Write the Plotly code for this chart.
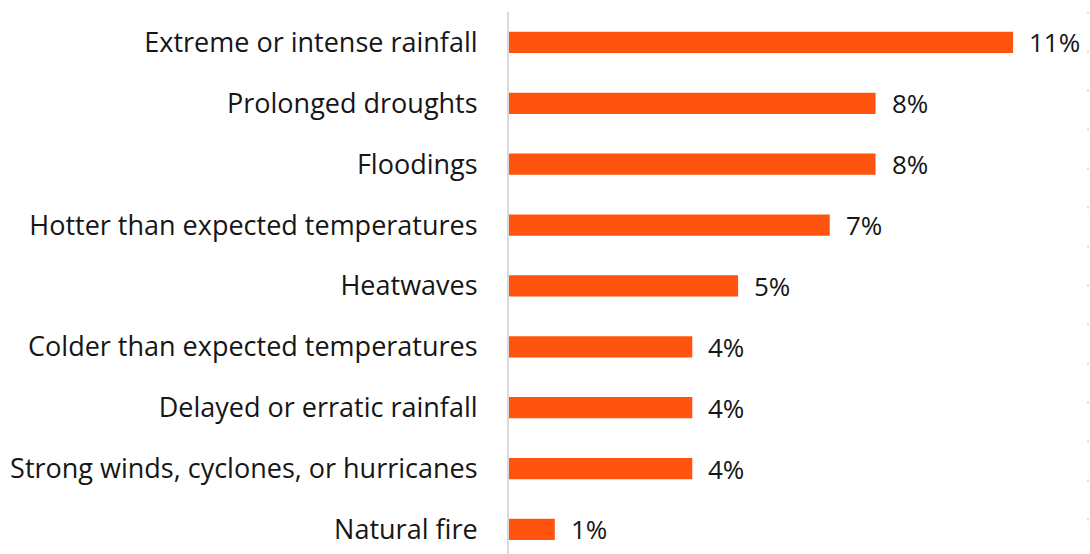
import plotly.graph_objects as go

# Share of respondents reporting each climate event
categories = [
    "Extreme or intense rainfall",
    "Prolonged droughts",
    "Floodings",
    "Hotter than expected temperatures",
    "Heatwaves",
    "Colder than expected temperatures",
    "Delayed or erratic rainfall",
    "Strong winds, cyclones, or hurricanes",
    "Natural fire",
]
values = [11, 8, 8, 7, 5, 4, 4, 4, 1]

BAR_COLOR = "#FF5410"
TEXT_COLOR = "#161616"
FONT = "Open Sans"

fig = go.Figure(
    go.Bar(
        x=values,
        y=categories,
        orientation="h",
        marker=dict(color=BAR_COLOR, line=dict(width=0)),
        hoverinfo="skip",
    )
)

# value labels placed just past the end of each bar
for cat, val in zip(categories, values):
    fig.add_annotation(
        x=val, y=cat, text=f"{val}%", showarrow=False,
        xanchor="left", yanchor="middle", xshift=14,
        font=dict(family=FONT, size=26, color=TEXT_COLOR),
    )

fig.update_layout(
    width=1090, height=554,
    margin=dict(l=509, r=8, t=12, b=0),
    paper_bgcolor="white", plot_bgcolor="white",
    bargap=0.65,
    showlegend=False,
    font=dict(family=FONT, size=27, color=TEXT_COLOR),
    xaxis=dict(
        range=[0, 12.505], visible=False, fixedrange=True,
    ),
    yaxis=dict(
        type="category",
        categoryorder="array", categoryarray=categories,
        range=[8.404, -0.5],
        showline=True, linecolor="#d9d9d9", linewidth=2,
        showgrid=False, ticks="", ticklabelstandoff=24,
        tickfont=dict(family=FONT, size=27, color=TEXT_COLOR),
        fixedrange=True,
    ),
    shapes=[
        dict(
            type="line", xref="paper", yref="paper",
            x0=1.0105, x1=1.0105, y0=-0.01, y1=1.0,
            line=dict(color="#c8c8c8", width=1.5, dash="2px,37px"),
        )
    ],
)

fig.write_html("out.html")
